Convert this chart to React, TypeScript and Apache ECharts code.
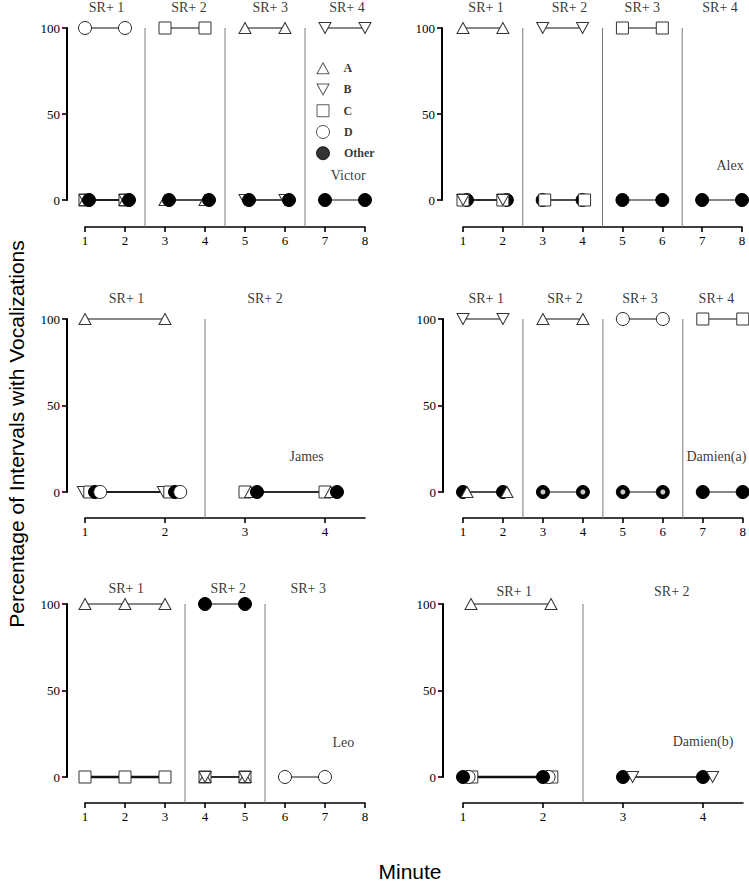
import React, { useEffect, useRef } from "react";
import * as echarts from "echarts";

type Pt = [number, number] | null;

const legendNames = ["A", "B", "C", "D", "Other"];
const minuteTicks8 = [1, 2, 3, 4, 5, 6, 7, 8];
const minuteTicks4 = [1, 2, 3, 4];
const percentTicks = [0, 50, 100];

const phases4 = ["SR+ 1", "SR+ 2", "SR+ 3", "SR+ 4"];
const phases3 = ["SR+ 1", "SR+ 2", "SR+ 3"];
const phases2 = ["SR+ 1", "SR+ 2"];

// Victor
const victorA: Pt[] = [[1, 0], [2, 0], null, [3, 0], [4, 0], null, [5, 100], [6, 100]];
const victorB: Pt[] = [[1, 0], [2, 0], null, [5, 0], [6, 0], null, [7, 100], [8, 100]];
const victorC: Pt[] = [[1, 0], [2, 0], null, [3, 100], [4, 100]];
const victorD: Pt[] = [[1, 100], [2, 100]];
const victorOther: Pt[] = [[1.1, 0], [2.1, 0], null, [3.1, 0], [4.1, 0], null, [5.1, 0], [6.1, 0], null, [7, 0], [8, 0]];

// Alex
const alexA: Pt[] = [[1, 100], [2, 100]];
const alexB: Pt[] = [[1, 0], [2, 0], null, [3, 100], [4, 100]];
const alexC: Pt[] = [[1, 0], [2, 0], null, [3.05, 0], [4.05, 0], null, [5, 100], [6, 100]];
const alexOther: Pt[] = [[1.1, 0], [2.1, 0], null, [3, 0], [4, 0], null, [5, 0], [6, 0], null, [7, 0], [8, 0]];

// James
const jamesA: Pt[] = [[1, 100], [2, 100], null, [3.07, 0], [4.07, 0]];
const jamesB: Pt[] = [[0.98, 0], [1.98, 0]];
const jamesC: Pt[] = [[1.06, 0], [2.06, 0], null, [3, 0], [4, 0]];
const jamesD: Pt[] = [[1.19, 0], [2.19, 0]];
const jamesOther: Pt[] = [[1.125, 0], [2.125, 0], null, [3.15, 0], [4.15, 0]];

// Damien (a)
const damienAA: Pt[] = [[1.1, 0], [2.1, 0], null, [3, 100], [4, 100]];
const damienAB: Pt[] = [[1, 100], [2, 100]];
const damienAC: Pt[] = [[7, 100], [8, 100]];
const damienAD: Pt[] = [[5, 100], [6, 100]];
const damienAOther: Pt[] = [[1, 0], [2, 0], null, [3, 0], [4, 0], null, [5, 0], [6, 0], null, [7, 0], [8, 0]];
const damienAOverlap: Pt[] = [[3, 0], [4, 0], null, [5, 0], [6, 0]];

// Leo
const leoA: Pt[] = [[1, 100], [2, 100], [3, 100], null, [4, 0], [5, 0]];
const leoB: Pt[] = [[4, 0], [5, 0]];
const leoC: Pt[] = [[1, 0], [2, 0], [3, 0], null, [4, 0], [5, 0]];
const leoD: Pt[] = [[6, 0], [7, 0]];
const leoOther: Pt[] = [[4, 100], [5, 100]];

// Damien (b)
const damienBA: Pt[] = [[1.1, 100], [2.1, 100]];
const damienBB: Pt[] = [[3.12, 0], [4.12, 0]];
const damienBC: Pt[] = [[1.11, 0], [2.11, 0]];
const damienBD: Pt[] = [[1.07, 0], [2.07, 0]];
const damienBOther: Pt[] = [[1, 0], [2, 0], null, [3, 0], [4, 0]];

const SERIF = '"Liberation Serif", "Times New Roman", serif';
const SANS = '"Liberation Sans", Arial, sans-serif';

const SYM: Record<string, { symbol: string; size: any; fill: string; border: string }> = {
  A: { symbol: "triangle", size: [12, 11], fill: "#fff", border: "#333" },
  B: { symbol: "path://M0,0L10,0L5,9Z", size: [12, 11], fill: "#fff", border: "#333" },
  C: { symbol: "rect", size: [12, 12], fill: "#fff", border: "#333" },
  D: { symbol: "circle", size: 13, fill: "#fff", border: "#222" },
  Other: { symbol: "circle", size: 13, fill: "#000", border: "#000" },
};

type Panel = {
  name: string;
  left: number; top: number; width: number; height: number;
  xMax: number; ticks: number[];
  yOffset: number; xOffset: number;
  seps: number[];
  phases: string[]; phaseX: number[]; phaseY: number;
  nameX: number; nameY: number;
  data: [string, Pt[]][];
  thick?: Record<string, number[]>;
  overlap?: Pt[];
  legend?: boolean;
};

const panels: Panel[] = [
  {
    name: "Victor", left: 85, top: 28, width: 280, height: 172, xMax: 8, ticks: minuteTicks8,
    yOffset: 18, xOffset: 27, seps: [2.5, 4.5, 6.5],
    phases: phases4, phaseX: [1.54, 3.6, 5.63, 7.55], phaseY: 112, nameX: 7.58, nameY: 14.5,
    data: [["C", victorC], ["A", victorA], ["B", victorB], ["D", victorD], ["Other", victorOther]],
    legend: true,
  },
  {
    name: "Alex", left: 463, top: 28, width: 279, height: 172, xMax: 8, ticks: minuteTicks8,
    yOffset: 21, xOffset: 27, seps: [2.5, 4.5, 6.5],
    phases: phases4, phaseX: [1.58, 3.67, 5.5, 7.45], phaseY: 112, nameX: 7.7, nameY: 20.3,
    data: [["Other", alexOther], ["C", alexC], ["B", alexB], ["A", alexA]],
  },
  {
    name: "James", left: 85, top: 319, width: 280, height: 173, xMax: 4.5, ticks: minuteTicks4,
    yOffset: 18, xOffset: 26, seps: [2.5],
    phases: phases2, phaseX: [1.52, 3.25], phaseY: 112, nameX: 3.77, nameY: 20.4,
    data: [["B", jamesB], ["C", jamesC], ["A", jamesA], ["Other", jamesOther], ["D", jamesD]],
  },
  {
    name: "Damien(a)", left: 463, top: 319, width: 280, height: 173, xMax: 8, ticks: minuteTicks8,
    yOffset: 20, xOffset: 26, seps: [2.5, 4.5, 6.5],
    phases: phases4, phaseX: [1.58, 3.55, 5.43, 7.34], phaseY: 112, nameX: 7.34, nameY: 20.4,
    data: [["Other", damienAOther], ["A", damienAA], ["B", damienAB], ["C", damienAC], ["D", damienAD]],
    overlap: damienAOverlap,
  },
  {
    name: "Leo", left: 85, top: 604, width: 280, height: 173, xMax: 8, ticks: minuteTicks8,
    yOffset: 18, xOffset: 26, seps: [3.5, 5.5],
    phases: phases3, phaseX: [2.03, 4.58, 6.58], phaseY: 109, nameX: 7.46, nameY: 20,
    data: [["D", leoD], ["C", leoC], ["A", leoA], ["B", leoB], ["Other", leoOther]],
    thick: { C: [0] },
  },
  {
    name: "Damien(b)", left: 463, top: 604, width: 280, height: 173, xMax: 4.5, ticks: minuteTicks4,
    yOffset: 20, xOffset: 26, seps: [2.5],
    phases: phases2, phaseX: [1.64, 3.61], phaseY: 107, nameX: 4.0, nameY: 20.4,
    data: [["C", damienBC], ["D", damienBD], ["A", damienBA], ["Other", damienBOther], ["B", damienBB]],
    thick: { Other: [0] },
  },
];

function splitSegments(pts: Pt[]): [number, number][][] {
  const segs: [number, number][][] = [];
  let cur: [number, number][] = [];
  pts.forEach((p) => {
    if (p === null) {
      if (cur.length) segs.push(cur);
      cur = [];
    } else cur.push(p);
  });
  if (cur.length) segs.push(cur);
  return segs;
}

function buildOption() {
  const grid: any[] = [];
  const xAxis: any[] = [];
  const yAxis: any[] = [];
  const series: any[] = [];

  panels.forEach((p, i) => {
    grid.push({ left: p.left, top: p.top, width: p.width, height: p.height });
    xAxis.push({
      gridIndex: i, type: "value", min: 1, max: p.xMax, interval: 1, offset: p.xOffset,
      axisLine: { show: true, onZero: false, lineStyle: { color: "#000", width: 1.6 } },
      axisTick: { show: true, length: 5, customValues: p.ticks, lineStyle: { color: "#000", width: 1.6 } },
      axisLabel: { customValues: p.ticks, margin: 7, fontFamily: SERIF, fontSize: 13, color: "#000" },
      splitLine: { show: false },
    });
    yAxis.push({
      gridIndex: i, type: "value", min: 0, max: 100, interval: 50, offset: p.yOffset,
      axisLine: { show: true, onZero: false, lineStyle: { color: "#000", width: 2 } },
      axisTick: { show: true, length: 5, lineStyle: { color: "#000", width: 1.6 } },
      axisLabel: { margin: 7, fontFamily: SERIF, fontSize: 13, color: "#000" },
      splitLine: { show: false },
    });

    // y-axis spine and ticks, drawn as line series through the panel's scales
    const pxPerUnit = p.width / (p.xMax - 1);
    const spineX = 1 - p.yOffset / pxPerUnit;
    const tickX = spineX - 5 / pxPerUnit;
    series.push({
      type: "line", xAxisIndex: i, yAxisIndex: i, silent: true, z: 6, clip: false,
      symbol: "none", showSymbol: false,
      data: [[spineX, 0], [spineX, 100]],
      lineStyle: { color: "#000", width: 2 },
    });
    percentTicks.forEach((t) => {
      series.push({
        type: "line", xAxisIndex: i, yAxisIndex: i, silent: true, z: 6, clip: false,
        symbol: "none", showSymbol: false,
        data: [[tickX, t], [spineX, t]],
        lineStyle: { color: "#000", width: 1.6 },
      });
    });

    // phase separators
    const off = p.xOffset;
    series.push({
      type: "custom", xAxisIndex: i, yAxisIndex: i, silent: true, z: 1,
      data: p.seps.map((x) => [x, 100]),
      renderItem: (_params: any, api: any) => {
        const top = api.coord([api.value(0), 100]);
        const bot = api.coord([api.value(0), 0]);
        return {
          type: "line",
          shape: { x1: top[0], y1: top[1], x2: bot[0], y2: bot[1] + off },
          style: { stroke: "#7a7a7a", lineWidth: 1 },
        };
      },
    });

    // connecting lines
    p.data.forEach(([sym, pts]) => {
      splitSegments(pts).forEach((seg, si) => {
        const thick = p.thick && p.thick[sym] && p.thick[sym].includes(si);
        series.push({
          type: "line", name: sym, xAxisIndex: i, yAxisIndex: i, silent: true, z: 2,
          data: seg, showSymbol: false, symbol: "none", clip: false,
          lineStyle: { color: "#111", width: thick ? 2.4 : 1.2 },
        });
      });
    });

    // symbols
    p.data.forEach(([sym, pts]) => {
      const s = SYM[sym];
      series.push({
        type: "scatter", name: sym, xAxisIndex: i, yAxisIndex: i, silent: true, z: 3, clip: false,
        data: pts.filter((q) => q !== null),
        symbol: s.symbol, symbolSize: s.size,
        itemStyle: { color: s.fill, borderColor: s.border, borderWidth: 1, opacity: 1 },
      });
    });

    if (p.overlap) {
      series.push({
        type: "scatter", name: "overlap", xAxisIndex: i, yAxisIndex: i, silent: true, z: 4, clip: false,
        data: p.overlap.filter((q) => q !== null),
        symbol: "circle", symbolSize: 5,
        itemStyle: { color: "#fff", borderWidth: 0 },
      });
    }

    // phase labels + participant name
    series.push({
      type: "scatter", xAxisIndex: i, yAxisIndex: i, silent: true, z: 5, clip: false,
      symbolSize: 0,
      data: [
        ...p.phases.map((t, k) => ({ name: t, value: [p.phaseX[k], p.phaseY] })),
        { name: p.name, value: [p.nameX, p.nameY] },
      ],
      label: { show: true, position: "inside", formatter: "{b}", fontFamily: SERIF, fontSize: 14, color: "#000" },
    });

    if (p.legend) {
      legendNames.forEach((nm, k) => {
        const s = SYM[nm];
        series.push({
          type: "scatter", xAxisIndex: i, yAxisIndex: i, silent: true, z: 5, clip: false,
          data: [{ name: nm, value: [6.95, 76.6 - k * 12.35] }],
          symbol: s.symbol, symbolSize: s.size,
          itemStyle: { color: s.fill, borderColor: s.border, borderWidth: 1 },
          label: {
            show: true, position: "right", distance: 14, formatter: "{b}",
            fontFamily: SERIF, fontSize: 12, fontWeight: "bold", color: "#000",
          },
        });
      });
    }
  });

  const graphic = [
    {
      type: "text", x: 16, y: 434, rotation: Math.PI / 2, silent: true,
      style: {
        text: "Percentage of Intervals with Vocalizations",
        font: `21px ${SANS}`, fill: "#000", textAlign: "center", textVerticalAlign: "middle",
      },
    },
    {
      type: "text", x: 410, y: 871, silent: true,
      style: {
        text: "Minute", font: `21px ${SANS}`, fill: "#000", textAlign: "center", textVerticalAlign: "middle",
      },
    },
  ];

  return { animation: false, grid, xAxis, yAxis, series, graphic };
}

export default function App() {
  const ref = useRef<HTMLDivElement>(null);
  useEffect(() => {
    if (!ref.current) return;
    const chart = echarts.init(ref.current, undefined, { renderer: "svg" });
    chart.setOption(buildOption() as any);
    return () => chart.dispose();
  }, []);
  return <div ref={ref} style={{ position: "absolute", left: 0, top: 0, width: 749, height: 882 }} />;
}
